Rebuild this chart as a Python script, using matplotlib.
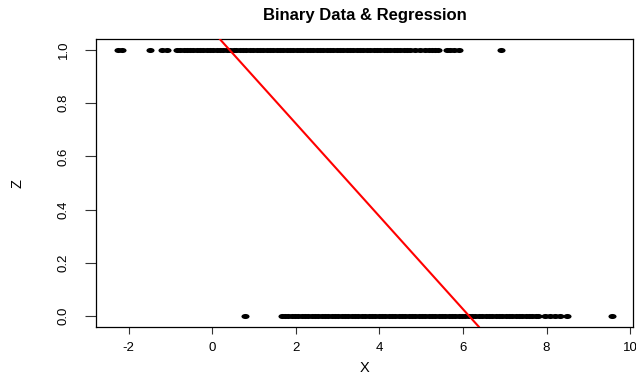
import matplotlib
matplotlib.use("Agg")
import matplotlib.pyplot as plt
from matplotlib.path import Path
from matplotlib.transforms import Affine2D

plt.rcParams['font.family'] = ['Liberation Sans', 'DejaVu Sans']

# Observations with Z = 1
x_z1 = [-2.26, -2.17, -1.49, -1.19, -1.09,
        -0.84, -0.76, -0.68, -0.61, -0.52, -0.45, -0.37, -0.29, -0.21, -0.13,
        -0.05, 0.03, 0.11, 0.19, 0.27, 0.35, 0.43, 0.51, 0.58, 0.66, 0.74,
        0.82, 0.90, 0.98, 1.06, 1.14, 1.22, 1.30, 1.38, 1.46, 1.54, 1.62,
        1.70, 1.78, 1.86, 1.94, 2.02, 2.10, 2.18, 2.26, 2.34, 2.42, 2.50,
        2.58, 2.66, 2.74, 2.82, 2.90, 2.98, 3.06, 3.14, 3.22, 3.30, 3.38,
        3.46, 3.54, 3.62, 3.70, 3.78, 3.86, 3.94, 4.02, 4.10, 4.18, 4.26,
        4.34, 4.42, 4.50, 4.58, 4.66, 4.74,
        4.85, 4.97, 5.10, 5.18, 5.26, 5.34, 5.40, 5.62, 5.70, 5.78, 5.90, 6.92]

# Observations with Z = 0
x_z0 = [0.78,
        1.66, 1.74, 1.82, 1.90, 1.98, 2.06, 2.14, 2.22, 2.30, 2.38, 2.46,
        2.54, 2.62, 2.70, 2.78, 2.86, 2.94, 3.02, 3.10, 3.18, 3.26, 3.34,
        3.42, 3.50, 3.58, 3.66, 3.74, 3.82, 3.90, 3.98, 4.06, 4.14, 4.22,
        4.30, 4.38, 4.46, 4.54, 4.62, 4.70, 4.78, 4.86, 4.94, 5.02, 5.10,
        5.18, 5.26, 5.34, 5.42, 5.50, 5.58, 5.66, 5.74, 5.82, 5.90, 5.98,
        6.06, 6.14, 6.22, 6.30, 6.38, 6.46, 6.54, 6.62, 6.70, 6.78, 6.86,
        6.94, 7.02, 7.10, 7.18, 7.26, 7.34, 7.42, 7.50, 7.58, 7.66, 7.74,
        7.79, 7.96, 8.08, 8.20, 8.32, 8.48, 9.56]

# Linear regression line Z = a + b X
intercept = 1.073
slope = -0.1745

x_ticks = [-2, 0, 2, 4, 6, 8, 10]
y_ticks = [0.0, 0.2, 0.4, 0.6, 0.8, 1.0]

# horizontally stretched dot (as in the reference rendering)
circ = Path.unit_circle()
oval = Affine2D().scale(1.6, 1.0).transform_path(circ)

fig = plt.figure(figsize=(6.36, 3.79), dpi=100)
ax = fig.add_axes([0.151, 0.138, 0.845, 0.758])

ax.scatter(x_z1, [1] * len(x_z1), s=34, color='black', marker=oval, linewidths=0, zorder=3)
ax.scatter(x_z0, [0] * len(x_z0), s=34, color='black', marker=oval, linewidths=0, zorder=3)
ax.axline((0, intercept), slope=slope, color='red', lw=1.5, zorder=4)

ax.set_xlim(-2.78, 10.08)
ax.set_ylim(-0.04, 1.04)
ax.set_xticks(x_ticks)
ax.set_xticklabels([str(t) for t in x_ticks], fontsize=9.5)
ax.set_yticks(y_ticks)
ax.set_yticklabels([f"{t:.1f}" for t in y_ticks], fontsize=9.5, rotation=90, va='center')

for s in ax.spines.values():
    s.set_linewidth(0.9)
    s.set_color('black')
ax.tick_params(axis='x', length=5, width=0.8, pad=6, colors='#333333', labelcolor='black')
ax.tick_params(axis='y', length=8, width=0.8, pad=11, colors='#333333', labelcolor='black')

ax.set_xlabel('X', fontsize=10.5, labelpad=5)
ax.set_ylabel('Z', fontsize=10.5, labelpad=24)
ax.set_title('Binary Data & Regression', fontsize=12, fontweight='bold', pad=14)

fig.savefig('out.png', dpi=100)
